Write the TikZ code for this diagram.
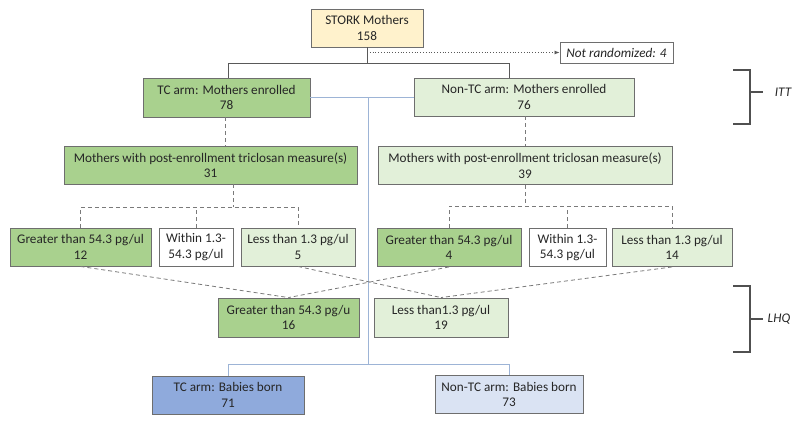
\documentclass[tikz,border=0pt]{standalone}
\usepackage{fontspec}
\setmainfont{Carlito}
\usetikzlibrary{arrows.meta,calc}
\definecolor{dgreen}{HTML}{A9D18E}
\definecolor{lgreen}{HTML}{E2F0D9}
\definecolor{lorange}{HTML}{FFF2CC}
\definecolor{dblue}{HTML}{8FAADC}
\definecolor{lblue}{HTML}{DAE3F3}
\definecolor{bord}{HTML}{6E6E6E}
\definecolor{conn}{HTML}{595959}
\definecolor{bluel}{HTML}{9DB4D6}
\definecolor{txt}{HTML}{262626}
\tikzset{
  box/.style={draw=bord, line width=0.9pt, inner sep=0pt, align=center, text=txt,
    font=\fontsize{13.2}{15.5}\selectfont},
  solidconn/.style={draw=conn, line width=0.8pt},
  blueconn/.style={draw=bluel, line width=0.9pt},
  dashconn/.style={draw=conn!80, line width=0.8pt, dash pattern=on 4pt off 3pt},
  dotconn/.style={draw=conn, line width=0.8pt, dotted, -{Latex[length=5pt,width=4pt]}},
  brack/.style={draw=conn!90!black, line width=1.1pt},
  lab/.style={font=\fontsize{13.2}{15}\selectfont\itshape, text=txt, inner sep=0pt}
}
\begin{document}
\begin{tikzpicture}[x=1pt,y=-1pt]
\useasboundingbox (0,0) rectangle (800,428);
% boxes
\node[box, fill=lorange, minimum width=112, minimum height=38] (stork) at (367,28) {STORK Mothers\\158};
\node[box, fill=white, minimum width=113, minimum height=21, font=\fontsize{13.2}{15}\selectfont\itshape] (notrand) at (616.5,52.5) {Not randomized: 4};
\node[box, fill=dgreen, minimum width=167, minimum height=39] (tc) at (226.5,97.5) {TC arm: Mothers enrolled\\78};
\node[box, fill=lgreen, minimum width=220, minimum height=38] (ntc) at (524,97) {Non-TC arm: Mothers enrolled\\76};
\node[box, fill=dgreen, minimum width=293, minimum height=38] (ptc) at (210.5,165) {Mothers with post-enrollment triclosan measure(s)\\31};
\node[box, fill=lgreen, minimum width=294, minimum height=38] (pntc) at (525,165.5) {Mothers with post-enrollment triclosan measure(s)\\39};
\node[box, fill=dgreen, minimum width=141, minimum height=38] (g12) at (80.5,247) {Greater than 54.3 pg/ul\\12};
\node[box, fill=white, minimum width=74, minimum height=38] (w1) at (196,247) {Within 1.3-\\54.3 pg/ul};
\node[box, fill=lgreen, minimum width=114, minimum height=38] (l5) at (298,247) {Less than 1.3 pg/ul\\5};
\node[box, fill=dgreen, minimum width=144, minimum height=38] (g4) at (449,247.5) {Greater than 54.3 pg/ul\\4};
\node[box, fill=white, minimum width=77, minimum height=38] (w2) at (567.5,247.5) {Within 1.3-\\54.3 pg/ul};
\node[box, fill=lgreen, minimum width=120, minimum height=38] (l14) at (672,247.5) {Less than 1.3 pg/ul\\14};
\node[box, fill=dgreen, minimum width=141, minimum height=39] (g16) at (288.5,317.5) {Greater than 54.3 pg/u\\16};
\node[box, fill=lgreen, minimum width=134, minimum height=39] (l19) at (441,317.5) {Less than1.3 pg/ul\\19};
\node[box, fill=dblue, minimum width=152, minimum height=38] (btc) at (228,395) {TC arm: Babies born\\71};
\node[box, fill=lblue, minimum width=148, minimum height=38] (bntc) at (509,394.5) {Non-TC arm: Babies born\\73};
% top connectors
\coordinate (j) at (367,63);
\coordinate (d) at (367,52.5);
\draw[solidconn] (stork.south) -- (j);
\draw[solidconn] (j) -| ([xshift=1.5pt]tc.north);
\draw[solidconn] (j) -| ([xshift=-15pt]ntc.north);
\draw[dotconn] (d) -- (notrand.west);
% blue connectors
\coordinate (bj) at (368,98);
\coordinate (bb) at (368,364);
\draw[blueconn] (tc.east) -- (tc.east -| ntc.west);
\draw[blueconn] (bj) -- (bb);
\draw[blueconn] (bb) -| (btc.north);
\draw[blueconn] (bb) -| (bntc.north);
% dashed, TC side
\draw[dashconn] ([xshift=-1.5pt]tc.south) -- ([xshift=-1.5pt]tc.south |- ptc.north);
\coordinate (h1) at (233,207);
\draw[dashconn] (ptc.south -| h1) -- (h1);
\draw[dashconn] (g12.north) |- (l5.north |- h1) -- (l5.north);
\draw[dashconn] (w1.north) -- (w1.north |- h1);
% dashed, non-TC side
\draw[dashconn] ([xshift=1pt]ntc.south) -- ([xshift=1pt]ntc.south |- pntc.north);
\coordinate (h2) at (525,206);
\draw[dashconn] (pntc.south -| h2) -- (h2);
\draw[dashconn] (g4.north) |- (l14.north |- h2) -- (l14.north);
\draw[dashconn] (w2.north) -- (w2.north |- h2);
% crossing dashed
\draw[dashconn] (g12.south) -- (g16.north);
\draw[dashconn] (g4.south) -- (g16.north);
\draw[dashconn] (l5.south) -- (l19.north);
\draw[dashconn] (l14.south) -- (l19.north);
% brackets
\draw[brack] (733,70) -- (750,70) -- (750,124) -- (733,124);
\draw[brack] (750,92) -- (763,92);
\node[lab] (itt) at (783,92) {ITT};
\draw[brack] (733,286) -- (750,286) -- (750,352) -- (733,352);
\draw[brack] (750,319) -- (763,319);
\node[lab] (lhq) at (779,319) {LHQ};
\end{tikzpicture}
\end{document}
